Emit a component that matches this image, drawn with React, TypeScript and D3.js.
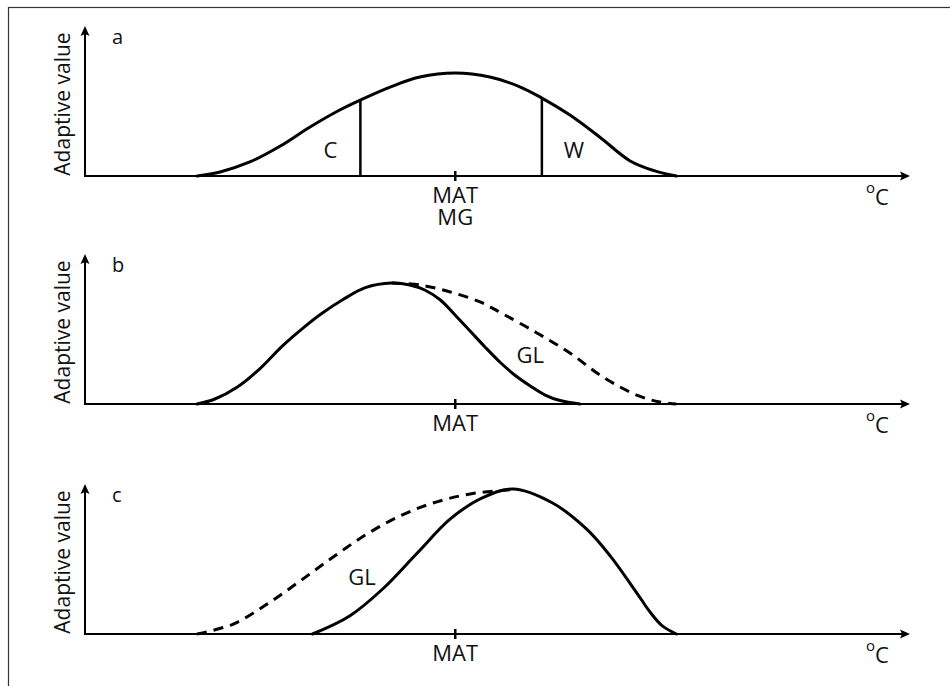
import React from "react";
import * as d3 from "d3";

// ---- Data (x: temperature relative to MAT, y: adaptive value, 1 = top of axis) ----
const aX = [-31.3, -28.5, -24.9, -21.2, -17.6, -14.0, -11.5, -7.9, -4.3, 0, 4.2, 7.9, 10.5, 13.9, 17.5, 21.2, 24.2, 26.8];
const aY = [0, 0.027, 0.094, 0.201, 0.329, 0.443, 0.51, 0.597, 0.664, 0.691, 0.664, 0.597, 0.523, 0.409, 0.262, 0.101, 0.034, 0];

const bSolidX = [-31.3, -29.2, -26.5, -23.7, -21.0, -18.2, -16.4, -13.6, -10.9, -7.7, -5.5, -3.7, -1.8, 0.2, 1.8, 3.6, 5.4, 7.2, 9.1, 10.9, 12.7, 15.1];
const bSolidY = [0, 0.032, 0.111, 0.236, 0.387, 0.521, 0.599, 0.701, 0.781, 0.812, 0.799, 0.765, 0.698, 0.584, 0.49, 0.383, 0.282, 0.195, 0.121, 0.06, 0.023, 0];
const bDashX = [-7.7, -4.3, -0.6, 3.0, 5.8, 9.9, 13.9, 17.9, 22.0, 24.8, 26.8];
const bDashY = [0.812, 0.799, 0.752, 0.685, 0.604, 0.477, 0.342, 0.181, 0.06, 0.013, 0];

const cSolidX = [-17.3, -12.8, -8.8, -4.6, -0.6, 3.0, 7.0, 11.8, 15.9, 18.8, 22.1, 23.6, 25.1, 26.8];
const cSolidY = [0, 0.121, 0.302, 0.544, 0.772, 0.906, 0.973, 0.879, 0.705, 0.523, 0.268, 0.148, 0.054, 0];
const cDashX = [-31.3, -26.9, -22.8, -18.8, -14.8, -10.7, -6.7, -2.7, 1.8, 7.0];
const cDashY = [0, 0.067, 0.201, 0.356, 0.517, 0.671, 0.792, 0.879, 0.94, 0.969];

// C / W limits in panel a
const limitLabels = ["C", "W"];
const limitX = [-11.5, 10.5];
const limitY = [0.51, 0.523];

const panelLetters = ["a", "b", "c"];
const tickValues = [0];
const tickLabelsA = ["MAT", "MG"];
const tickLabelsOther = ["MAT"];
const yAxisTitle = "Adaptive value";
const xAxisTitle = "C";

const FONT = "'Open Sans', 'Noto Sans', sans-serif";

const zip = (xs: number[], ys: number[]) => xs.map((x, i) => [x, ys[i]] as [number, number]);

export default function App() {
  const W = 950;
  const H = 686;
  const baselines = [176, 404, 634];
  const axisH = 149;
  const yAxisX = 85;

  const x = d3.scaleLinear().domain([-45, 55]).range([84, 909]);

  const panels = [
    { solid: [zip(aX, aY)], dashed: [] as [number, number][][], gl: null as null | [number, number] },
    { solid: [zip(bSolidX, bSolidY)], dashed: [zip(bDashX, bDashY)], gl: [9.1, 41 / 149] as [number, number] },
    { solid: [zip(cSolidX, cSolidY)], dashed: [zip(cDashX, cDashY)], gl: [-11.3, 49 / 149] as [number, number] },
  ];

  return (
    <svg
      width={W}
      height={H}
      style={{ position: "absolute", left: 0, top: 0, background: "#fff" }}
      fontFamily={FONT}
    >
      <rect x={8.5} y={7.5} width={960} height={700} fill="#fff" stroke="#333" strokeWidth={1.2} />
      {panels.map((p, i) => {
        const base = baselines[i];
        const y = d3.scaleLinear().domain([0, 1]).range([base, base - axisH]);
        const line = d3
          .line<[number, number]>()
          .x((d) => x(d[0]))
          .y((d) => y(d[1]))
          .curve(d3.curveCatmullRom.alpha(0.5));
        const xEnd = x(55);
        const labels = i === 0 ? tickLabelsA : tickLabelsOther;
        return (
          <g key={i}>
            {/* axes */}
            <line x1={yAxisX} y1={base} x2={xEnd - 4} y2={base} stroke="#000" strokeWidth={2} />
            <path
              d={`M${xEnd + 1},${base} L${xEnd - 9},${base - 4.5} L${xEnd - 7},${base} L${xEnd - 9},${base + 4.5} Z`}
              fill="#000"
            />
            <line x1={yAxisX} y1={base + 1} x2={yAxisX} y2={base - axisH + 5} stroke="#000" strokeWidth={2} />
            <path
              d={`M${yAxisX},${base - axisH - 1} L${yAxisX - 4.5},${base - axisH + 9} L${yAxisX},${base - axisH + 7} L${yAxisX + 4.5},${base - axisH + 9} Z`}
              fill="#000"
            />
            {/* y title */}
            <text
              transform={`translate(${70},${base - 72}) rotate(-90)`}
              textAnchor="middle"
              fontSize={21}
              fill="#111"
            >
              {yAxisTitle}
            </text>
            {/* panel letter */}
            <text x={112} y={base - 132} fontSize={20} fill="#111">
              {panelLetters[i]}
            </text>
            {/* x title */}
            <text x={866} y={base + 29} fontSize={22} fill="#111">
              <tspan fontSize={15} dy={-12}>o</tspan>
              <tspan dy={12}>{xAxisTitle}</tspan>
            </text>
            {/* MAT tick */}
            {tickValues.map((t) => (
              <g key={t}>
                <line x1={x(t)} x2={x(t)} y1={base - 5} y2={base + 5} stroke="#000" strokeWidth={2.5} />
                <text x={x(t)} y={base + 27} textAnchor="middle" fontSize={22} fill="#111">
                  {labels.map((l, k) => (
                    <tspan key={l} x={x(t)} dy={k === 0 ? 0 : 22}>
                      {l}
                    </tspan>
                  ))}
                </text>
              </g>
            ))}
            {/* curves */}
            {p.dashed.map((d, k) => (
              <path key={"d" + k} d={line(d) || ""} fill="none" stroke="#000" strokeWidth={3} strokeDasharray="10,7" />
            ))}
            {p.solid.map((d, k) => (
              <path key={"s" + k} d={line(d) || ""} fill="none" stroke="#000" strokeWidth={3} strokeLinecap="round" />
            ))}
            {/* C / W */}
            {i === 0 &&
              limitLabels.map((l, k) => (
                <g key={l}>
                  <line x1={x(limitX[k])} x2={x(limitX[k])} y1={base} y2={y(limitY[k])} stroke="#000" strokeWidth={2.5} />
                  <text
                    x={x(limitX[k]) + (k === 0 ? -30 : 32)}
                    y={base - 18}
                    textAnchor="middle"
                    fontSize={22}
                    fill="#111"
                  >
                    {l}
                  </text>
                </g>
              ))}
            {p.gl && (
              <text x={x(p.gl[0])} y={y(p.gl[1])} textAnchor="middle" fontSize={22} fill="#111">
                GL
              </text>
            )}
          </g>
        );
      })}
    </svg>
  );
}
